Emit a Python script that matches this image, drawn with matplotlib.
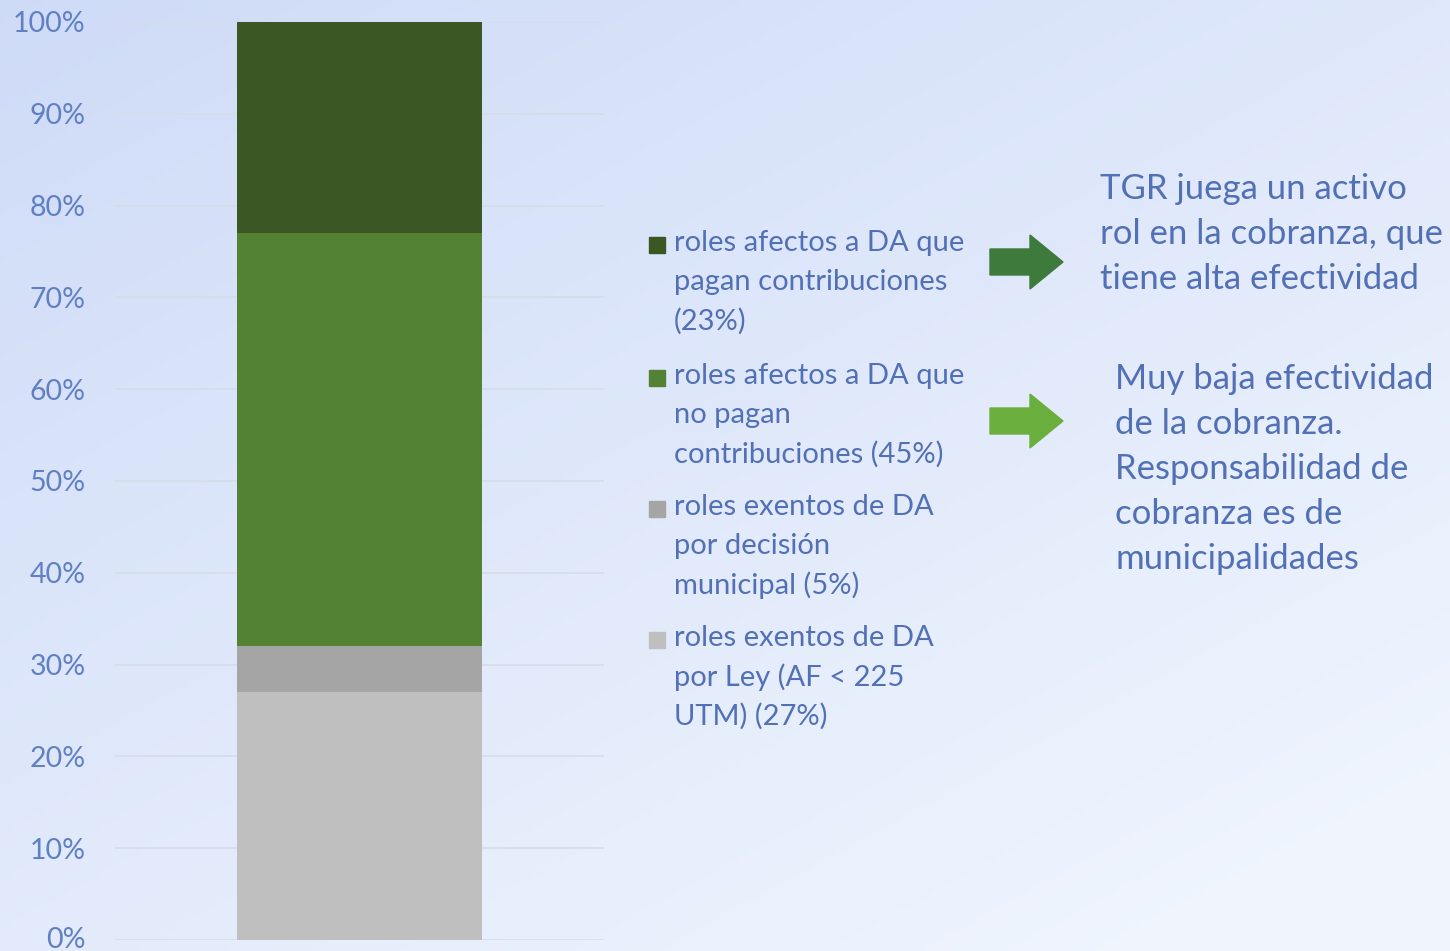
import numpy as np
import matplotlib
matplotlib.use("Agg")
import matplotlib.pyplot as plt
import matplotlib.transforms as mtransforms
from matplotlib.patches import Rectangle, Polygon
from matplotlib.ticker import PercentFormatter

# stacked shares (bottom -> top)
segment_names = ["roles exentos de DA\npor Ley (AF < 225\nUTM) (27%)",
                 "roles exentos de DA\npor decisión\nmunicipal (5%)",
                 "roles afectos a DA que\nno pagan\ncontribuciones (45%)",
                 "roles afectos a DA que\npagan contribuciones\n(23%)"]
segment_values = [27, 5, 45, 23]
segment_colors = ["#BFBFBF", "#A5A5A5", "#548235", "#3A5724"]

note_top = ["TGR juega un activo", "rol en la cobranza, que", "tiene alta efectividad"]
note_bottom = ["Muy baja efectividad", "de la cobranza.", "Responsabilidad de",
               "cobranza es de", "municipalidades"]

TEXT_COLOR = "#5270B5"
TICK_COLOR = "#6080C3"
W, H = 1450, 951

plt.rcParams['font.family'] = ['Lato', 'DejaVu Sans']

fig = plt.figure(figsize=(14.5, 9.51), dpi=100)

# soft blue background
bg = fig.add_axes([0, 0, 1, 1], zorder=-10)
yy, xx = np.mgrid[0:1:200j, 0:1:300j]
t = np.clip(0.6 * yy + 0.5 * xx, 0, 1)
c0 = np.array([0.81, 0.86, 0.97])
c1 = np.array([0.94, 0.96, 0.995])
img = c0[None, None, :] * (1 - t[..., None]) + c1[None, None, :] * t[..., None]
bg.imshow(img, aspect="auto", extent=[0, 1, 0, 1], origin="upper")
bg.axis("off")

ax = fig.add_axes([115 / W, 1 - 940 / H, 489 / W, 918 / H])
ax.patch.set_alpha(0)
bottom = 0
for val, col in zip(segment_values, segment_colors):
    ax.bar(0, val, bottom=bottom, width=1.0, color=col, zorder=3)
    bottom += val
ax.set_xlim(-1, 1)
ax.set_ylim(0, 100)
ax.set_yticks(np.arange(0, 101, 10))
ax.yaxis.set_major_formatter(PercentFormatter(decimals=0))
ax.set_xticks([])
ax.grid(axis="y", color="#D6DCE8", linewidth=1.2, zorder=0)
for s in ax.spines.values():
    s.set_visible(False)
ax.tick_params(axis="y", length=0, pad=21, labelsize=20.5, labelcolor=TICK_COLOR)

# nudge the 0% label up a little so it stays inside the picture
fig.canvas.draw()
zero_lbl = ax.get_yticklabels()[0]
zero_lbl.set_transform(zero_lbl.get_transform() +
                       mtransforms.ScaledTranslation(0, 3 / 100, fig.dpi_scale_trans))

# legend, top entry first
line_h = 39
entry_top = [243, 376, 507, 638]
for name, col, y0 in zip(segment_names[::-1], segment_colors[::-1], entry_top):
    fig.patches.append(Rectangle((649 / W, 1 - (y0 + 10) / H), 16 / W, 16 / H,
                                 transform=fig.transFigure, color=col, figure=fig))
    for i, ln in enumerate(name.split("\n")):
        fig.text(674 / W, 1 - (y0 + i * line_h) / H, ln, fontsize=21,
                 color=TEXT_COLOR, va="center", ha="left")

# arrows
def arrow(yc, col):
    pts = [(990, yc - 13), (1030, yc - 13), (1030, yc - 27), (1063, yc),
           (1030, yc + 27), (1030, yc + 13), (990, yc + 13)]
    fig.patches.append(Polygon([(x / W, 1 - y / H) for x, y in pts], closed=True,
                               transform=fig.transFigure, color=col, figure=fig))

arrow(262, "#3D7A3B")
arrow(421, "#6AAF3D")

for i, ln in enumerate(note_top):
    fig.text(1100 / W, 1 - (189 + i * 45) / H, ln, fontsize=25,
             color=TEXT_COLOR, va="center", ha="left")
for i, ln in enumerate(note_bottom):
    fig.text(1115 / W, 1 - (379 + i * 45) / H, ln, fontsize=25,
             color=TEXT_COLOR, va="center", ha="left")

fig.savefig("out.png", dpi=100)
